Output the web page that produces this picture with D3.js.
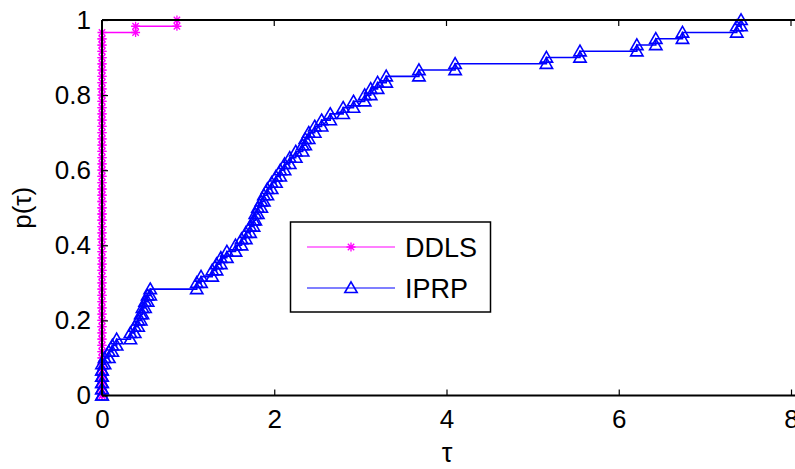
<!DOCTYPE html>
<html>
<head>
<meta charset="utf-8">
<script src="https://cdn.jsdelivr.net/npm/d3@7"></script>
<style>
  body { margin: 0; background: #fff; }
  svg text { font-family: "Liberation Sans", Arial, Helvetica, sans-serif; fill: #000; }
</style>
</head>
<body>
<div id="chart"></div>
<script>
// number of problems in the profile
const nProblems = 60;

// sorted performance ratios (log scale tau) per solver
const ddlsTau = [
  0, 0, 0, 0, 0, 0, 0, 0, 0, 0,
  0, 0, 0, 0, 0, 0, 0, 0, 0, 0,
  0, 0, 0, 0, 0, 0, 0, 0, 0, 0,
  0, 0, 0, 0, 0, 0, 0, 0, 0, 0,
  0, 0, 0, 0, 0, 0, 0, 0, 0, 0,
  0, 0, 0, 0, 0, 0, 0, 0, 0.39, 0.87
];
const iprpTau = [
  0, 0, 0, 0, 0, 0.03, 0.08, 0.12, 0.17, 0.33,
  0.38, 0.42, 0.45, 0.47, 0.50, 0.53, 0.56, 1.10, 1.15, 1.28,
  1.33, 1.38, 1.45, 1.55, 1.62, 1.67, 1.72, 1.76, 1.78, 1.81,
  1.85, 1.88, 1.92, 1.97, 2.02, 2.07, 2.12, 2.18, 2.25, 2.33,
  2.36, 2.40, 2.47, 2.55, 2.65, 2.80, 2.92, 3.05, 3.12, 3.20,
  3.30, 3.68, 4.10, 5.16, 5.55, 6.21, 6.43, 6.74, 7.37, 7.42
];

const xTicks = [0, 2, 4, 6, 8];
const yTicks = [0, 0.2, 0.4, 0.6, 0.8, 1];
const seriesNames = ['DDLS', 'IPRP'];
const seriesColors = ['#ff00ff', '#0000ff'];

const width = 795, height = 469;
const margin = { top: 20, right: 4, bottom: 73.5, left: 102 };

const svg = d3.select('#chart').append('svg')
  .attr('width', width)
  .attr('height', height);

const x = d3.scaleLinear().domain([0, 8]).range([margin.left, 791]);
const y = d3.scaleLinear().domain([0, 1]).range([height - margin.bottom, margin.top]);

// stairs vertices like matlab stairs(), starting from (0,0)
function stairs(tau) {
  const pts = [[0, 0]];
  tau.forEach((t, i) => {
    const prev = i / nProblems;
    pts.push([t, prev]);
    pts.push([t, (i + 1) / nProblems]);
  });
  return pts;
}

const line = d3.line().x(d => x(d[0])).y(d => y(d[1]));

const tri = d3.symbol().type(d3.symbolTriangle).size(66);
const starPath = 'M-4.5,0H4.5M0,-4.5V4.5M-3.2,-3.2L3.2,3.2M-3.2,3.2L3.2,-3.2';

function drawMarker(g, kind, color) {
  if (kind === 0) {
    g.append('path').attr('d', starPath)
      .attr('stroke', color).attr('stroke-width', 1.3).attr('fill', 'none');
  } else {
    g.append('path').attr('d', tri)
      .attr('transform', 'translate(0,1)')
      .attr('stroke', color).attr('stroke-width', 1.6).attr('fill', 'none');
  }
}

const plot = svg.append('g');

[ddlsTau, iprpTau].forEach((tau, s) => {
  const pts = stairs(tau);
  plot.append('path')
    .attr('d', line(pts))
    .attr('fill', 'none')
    .attr('stroke', seriesColors[s])
    .attr('stroke-width', 1.6);

  plot.selectAll('.m' + s)
    .data(pts)
    .join('g')
    .attr('class', 'm' + s)
    .attr('transform', d => `translate(${x(d[0])},${y(d[1])})`)
    .each(function() { drawMarker(d3.select(this), s, seriesColors[s]); });
});

// axes: ticks pointing inward, box on top and left
const axisG = svg.append('g');

const xAxis = d3.axisBottom(x).tickValues(xTicks).tickSize(-6).tickPadding(14)
  .tickFormat(d3.format('d'));
axisG.append('g')
  .attr('transform', `translate(0,${y(0)})`)
  .call(xAxis)
  .call(g => g.select('.domain').remove());

const yAxis = d3.axisLeft(y).tickValues(yTicks).tickSize(-6).tickPadding(11)
  .tickFormat(d => d === 0 || d === 1 ? d3.format('d')(d) : d3.format('.1f')(d));
axisG.append('g')
  .attr('transform', `translate(${x(0)},0)`)
  .call(yAxis)
  .call(g => g.select('.domain').remove());

// top ticks
axisG.selectAll('.top-tick')
  .data(xTicks)
  .join('line')
  .attr('x1', d => x(d)).attr('x2', d => x(d))
  .attr('y1', y(1)).attr('y2', y(1) + 6)
  .attr('stroke', '#000').attr('stroke-width', 1.2);

axisG.selectAll('.tick line').attr('stroke', '#000').attr('stroke-width', 1.2);
axisG.selectAll('.tick text')
  .style('font-size', '26px')
  .style('font-family', '"Liberation Sans", Arial, sans-serif');

// frame lines
axisG.append('line')
  .attr('x1', x(0)).attr('x2', width + 5)
  .attr('y1', y(0)).attr('y2', y(0))
  .attr('stroke', '#000').attr('stroke-width', 2);
axisG.append('line')
  .attr('x1', x(0)).attr('x2', width + 5)
  .attr('y1', y(1)).attr('y2', y(1))
  .attr('stroke', '#000').attr('stroke-width', 2);
axisG.append('line')
  .attr('x1', x(0)).attr('x2', x(0))
  .attr('y1', y(1)).attr('y2', y(0))
  .attr('stroke', '#000').attr('stroke-width', 2);

// axis titles
svg.append('text')
  .attr('x', 447)
  .attr('y', 462)
  .attr('text-anchor', 'middle')
  .style('font-size', '27px')
  .text('τ');

svg.append('text')
  .attr('transform', `translate(31,${(y(0) + y(1)) / 2}) rotate(-90)`)
  .attr('text-anchor', 'middle')
  .style('font-size', '26px')
  .text('p(τ)');

// legend
const legend = svg.append('g');
legend.append('rect')
  .attr('x', 290.5).attr('y', 222)
  .attr('width', 200).attr('height', 90)
  .attr('fill', '#fff')
  .attr('stroke', '#000')
  .attr('stroke-width', 1.5);

const legendY = [247, 288];
seriesNames.forEach((name, s) => {
  const row = legend.append('g').attr('transform', `translate(0,${legendY[s]})`);
  row.append('line')
    .attr('x1', 307).attr('x2', 395)
    .attr('stroke', seriesColors[s]).attr('stroke-width', 1.2);
  const m = row.append('g').attr('transform', 'translate(351,0)');
  drawMarker(m, s, seriesColors[s]);
  row.append('text')
    .attr('x', 405)
    .attr('y', 10)
    .style('font-size', '27px')
    .text(name);
});
</script>
</body>
</html>
